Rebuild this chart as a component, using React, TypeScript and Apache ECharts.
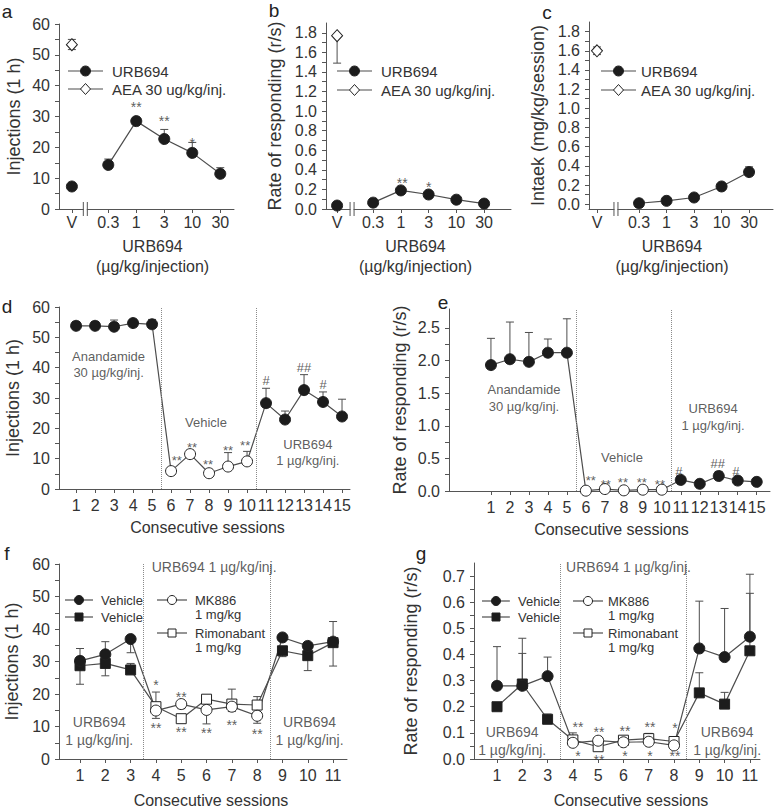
import React, { useEffect, useRef } from 'react';
import * as echarts from 'echarts';

// ---------------- data ----------------
const doseLabels = ['0.3', '1', '3', '10', '30'];
const sessions15 = [1, 2, 3, 4, 5, 6, 7, 8, 9, 10, 11, 12, 13, 14, 15];
const sessions11 = [1, 2, 3, 4, 5, 6, 7, 8, 9, 10, 11];

const aYTicks = [0, 10, 20, 30, 40, 50, 60];
const bYTicks = [0, 0.2, 0.4, 0.6, 0.8, 1.0, 1.2, 1.4, 1.6, 1.8];
const cYTicks = [0, 0.2, 0.4, 0.6, 0.8, 1.0, 1.2, 1.4, 1.6, 1.8];
const dYTicks = [0, 10, 20, 30, 40, 50, 60];
const eYTicks = [0, 0.5, 1.0, 1.5, 2.0, 2.5];
const fYTicks = [0, 10, 20, 30, 40, 50, 60];
const gYTicks = [0, 0.1, 0.2, 0.3, 0.4, 0.5, 0.6, 0.7];

// panel a: injections (1 h)
const aVehicleInj = 7.3;
const aUrbInj = [14.3, 28.5, 22.7, 18.2, 11.4];
const aUrbInjErrEnd = [16.2, 29.4, 25.8, 21.6, 13.4];
const aAeaInj = 53.3;
const aAeaInjErrEnd = [55.0, 51.7];

// panel b: rate of responding
const bVehicleRate = 0.035;
const bUrbRate = [0.065, 0.19, 0.148, 0.095, 0.055];
const bUrbRateErrEnd = [null, 0.205, 0.17, null, null];
const bAeaRate = 1.77;
const bAeaRateErrEnd = [1.49];

// panel c: intake
const cUrbIntake = [0.01, 0.035, 0.07, 0.185, 0.335];
const cUrbIntakeErrEnd = [null, null, null, 0.2, 0.39];
const cAeaIntake = 1.6;
const cAeaIntakeErrEnd = [1.64, 1.56];

// panel d: injections per session
const dInj = [53.8, 53.8, 53.5, 54.7, 54.3, 5.9, 11.5, 5.2, 7.4, 9.1, 28.3, 22.9, 32.6, 28.7, 23.9];
const dInjErrEnd = [55.2, 55.2, 55.7, 55.4, 55.9, null, 12.8, null, 12.0, 12.4, 33.2, 25.7, 37.7, 32.0, 29.6];
const dVehicleSessions = [6, 7, 8, 9, 10];

// panel e: rate of responding per session
const eRate = [1.93, 2.02, 1.98, 2.12, 2.12, 0.005, 0.03, 0.01, 0.02, 0.02, 0.17, 0.11, 0.23, 0.16, 0.14];
const eRateErrEnd = [2.34, 2.59, 2.43, 2.33, 2.64, null, null, null, null, null, null, null, 0.3, null, null];
const eVehicleSessions = [6, 7, 8, 9, 10];

// panel f: injections, circles (Vehicle / MK886) and squares (Vehicle / Rimonabant)
const fCircle = [30.2, 32.2, 36.9, 14.9, 16.9, 15.1, 16.1, 13.3, 37.4, 34.8, 36.1];
const fCircleErrEnd = [34.0, 36.1, 32.7, 12.5, 15.5, 10.8, 14.6, 11.0, null, null, 42.3];
const fSquare = [28.7, 29.4, 27.4, 16.1, 12.4, 18.4, 16.9, 16.6, 33.3, 31.8, 35.8];
const fSquareErrEnd = [23.0, 25.6, 29.4, 20.6, null, null, 21.5, 19.2, 31.5, 27.2, 28.6];
const fTreatSessions = [4, 5, 6, 7, 8];

// panel g: rate of responding
const gCircle = [0.28, 0.28, 0.317, 0.062, 0.07, 0.064, 0.066, 0.052, 0.423, 0.39, 0.468];
const gCircleErrEnd = [0.43, 0.462, 0.39, null, null, null, null, null, 0.604, 0.576, 0.707];
const gSquare = [0.2, 0.287, 0.152, 0.073, 0.047, 0.072, 0.078, 0.067, 0.253, 0.21, 0.414];
const gSquareErrEnd = [null, 0.404, 0.172, 0.1, null, null, 0.098, null, 0.33, 0.255, 0.634];
const gTreatSessions = [4, 5, 6, 7, 8];

// annotations [x, y, text] in data units
const aMarks: [number, number, string][] = [[2.3, 34, '**'], [3.3, 29.5, '**'], [4.3, 22.4, '*']];
const bMarks: [number, number, string][] = [[2.35, 0.3, '**'], [3.3, 0.255, '*']];
const dMarks: [number, number, string][] = [
  [6.3, 10.5, '**'], [7.1, 14.8, '**'], [7.95, 9.2, '**'], [9.0, 13.8, '**'], [9.9, 15.2, '**'],
  [11, 36.6, '#'], [13, 40.9, '##'], [14, 35.3, '#'],
];
const eMarks: [number, number, string][] = [
  [6.26, 0.21, '**'], [7.05, 0.15, '**'], [7.95, 0.17, '**'], [8.95, 0.17, '**'], [9.9, 0.14, '**'],
  [10.9, 0.34, '#'], [12.95, 0.46, '##'], [13.9, 0.34, '#'],
];
const fMarks: [number, number, string][] = [
  [4, 23.7, '*'], [4, 10.5, '**'], [5, 20.0, '**'], [5, 9.2, '**'], [6, 8.9, '**'], [7, 11.4, '**'], [8, 8.6, '**'],
];
const gMarks: [number, number, string][] = [
  [4.2, 0.134, '**'], [4.2, 0.023, '*'], [5.03, 0.115, '**'], [5.03, 0.008, '**'], [6.06, 0.119, '**'],
  [6.06, 0.023, '*'], [7.05, 0.134, '**'], [7.05, 0.023, '*'], [8.04, 0.13, '*'], [8.04, 0.023, '**'],
];
const dNotes: [number, number, string][] = [
  [2.71, 40.9, 'Anandamide\n30 µg/kg/inj.'], [7.84, 21.8, 'Vehicle'], [13.2, 12.0, 'URB694\n1 µg/kg/inj.'],
];
const eNotes: [number, number, string][] = [
  [2.74, 1.43, 'Anandamide\n30 µg/kg/inj.'], [7.9, 0.51, 'Vehicle'], [12.7, 1.13, 'URB694\n1 µg/kg/inj.'],
];
const fNotes: [number, number, string][] = [
  [6.3, 59.0, 'URB694 1 µg/kg/inj.'], [1.76, 8.6, 'URB694\n1 µg/kg/inj.'], [10.07, 8.6, 'URB694\n1 µg/kg/inj.'],
];
const gNotes: [number, number, string][] = [
  [6.2, 0.734, 'URB694 1 µg/kg/inj.'], [1.6, 0.07, 'URB694\n1 µg/kg/inj.'], [10.1, 0.07, 'URB694\n1 µg/kg/inj.'],
];

// ---------------- layout & style ----------------
const FONT = '"Liberation Sans", Arial, Helvetica, sans-serif';
const TXT = '#333333';
const AXC = '#555555';
const MK = '#1c1c1c';
const LN = '#4d4d4d';

type K = 'a' | 'b' | 'c' | 'd' | 'e' | 'f' | 'g';
const ORDER: K[] = ['a', 'b', 'c', 'd', 'e', 'f', 'g'];
const gi = (k: K) => ORDER.indexOf(k);
const LAYOUT: Record<K, { left: number; top: number; right: number; bottom: number; xMin: number; xMax: number; yMin: number; yMax: number }> = {
  a: { left: 59, top: 24, right: 234, bottom: 209, xMin: -0.46, xMax: 5.79, yMin: 0, yMax: 60 },
  b: { left: 326, top: 23, right: 511, bottom: 209, xMin: -0.4, xMax: 6.27, yMin: 0, yMax: 1.9 },
  c: { left: 589, top: 22, right: 773, bottom: 209, xMin: -0.29, xMax: 6.4, yMin: -0.05, yMax: 1.9 },
  d: { left: 59, top: 307, right: 350, bottom: 489, xMin: 0.1, xMax: 15.42, yMin: 0, yMax: 60 },
  e: { left: 449, top: 309, right: 770, bottom: 491, xMin: -1.21, xMax: 15.7, yMin: 0, yMax: 2.79 },
  f: { left: 59, top: 564, right: 347, bottom: 759, xMin: 0.17, xMax: 11.55, yMin: 0, yMax: 60 },
  g: { left: 474, top: 563, right: 760, bottom: 759, xMin: 0.09, xMax: 11.4, yMin: 0, yMax: 0.75 },
};
const DOSE_GAP: Record<string, number> = { a: 1.3, b: 1.3, c: 1.53 };
const BREAK_POS: Record<string, number> = { a: 0.48, b: 0.54, c: 0.69 };
const dosePos = (k: K) => doseLabels.map((_, i) => DOSE_GAP[k] + i);

function halfTicks(t: number[]) {
  const out: number[] = [];
  t.forEach((v, i) => {
    out.push(v);
    if (i < t.length - 1) out.push(+((v + t[i + 1]) / 2).toFixed(4));
  });
  return out;
}

const lbl = (size: number) => ({ color: TXT, fontSize: size, fontFamily: FONT });

function yAxis(k: K, ticks: number[], digits: number, name: string, nameGap: number) {
  const p = LAYOUT[k];
  return {
    gridIndex: gi(k), type: 'value', min: p.yMin, max: p.yMax,
    axisLine: { show: true, onZero: false, lineStyle: { color: AXC, width: 1 } },
    axisTick: { show: true, customValues: halfTicks(ticks), length: 4, lineStyle: { color: AXC } },
    axisLabel: { customValues: ticks, formatter: (v: number) => Number(v).toFixed(digits), margin: 9, ...lbl(16) },
    splitLine: { show: false },
    name, nameLocation: 'middle', nameGap, nameTextStyle: lbl(18),
  };
}

function doseAxis(k: K, shift: number) {
  const p = LAYOUT[k];
  const pos = [0, ...dosePos(k)];
  const labels = ['V', ...doseLabels];
  const map = new Map(pos.map((v, i) => [v.toFixed(3), labels[i]]));
  return {
    gridIndex: gi(k), type: 'value', min: p.xMin, max: p.xMax,
    axisLine: { show: true, onZero: false, lineStyle: { color: AXC, width: 1 } },
    axisTick: { show: true, customValues: pos, length: 4, lineStyle: { color: AXC } },
    axisLabel: { customValues: pos, formatter: (v: number) => map.get(Number(v).toFixed(3)) ?? '', margin: 5, ...lbl(16) },
    splitLine: { show: false },
    name: 'URB694\n(µg/kg/injection)', nameLocation: 'middle', nameGap: 27,
    nameTextStyle: { ...lbl(16), lineHeight: 20, padding: shift >= 0 ? [0, 0, 0, shift * 2] : [0, -shift * 2, 0, 0] },
  };
}

function sessAxis(k: K, sessions: number[], nameGap: number, shift: number) {
  const p = LAYOUT[k];
  return {
    gridIndex: gi(k), type: 'value', min: p.xMin, max: p.xMax,
    axisLine: { show: true, onZero: false, lineStyle: { color: AXC, width: 1 } },
    axisTick: { show: true, customValues: sessions, length: 4, lineStyle: { color: AXC } },
    axisLabel: { customValues: sessions, formatter: (v: number) => String(Math.round(v)), margin: 8, ...lbl(16) },
    splitLine: { show: false },
    name: 'Consecutive sessions', nameLocation: 'middle', nameGap,
    nameTextStyle: { ...lbl(16), padding: shift >= 0 ? [0, 0, 0, shift * 2] : [0, -shift * 2, 0, 0] },
  };
}

function errData(xs: number[], ys: number[], ends: (number | null)[]) {
  const out: number[][] = [];
  xs.forEach((x, i) => { if (ends[i] != null) out.push([x, ys[i], ends[i] as number]); });
  return out;
}

function errorSeries(k: K, data: number[][]) {
  return {
    type: 'custom', xAxisIndex: gi(k), yAxisIndex: gi(k), z: 1, silent: true, clip: false,
    data,
    renderItem: (_p: any, api: any) => {
      const a = api.coord([api.value(0), api.value(1)]);
      const b = api.coord([api.value(0), api.value(2)]);
      const st = { stroke: LN, lineWidth: 1 };
      return {
        type: 'group', children: [
          { type: 'line', shape: { x1: a[0], y1: a[1], x2: b[0], y2: b[1] }, style: st },
          { type: 'line', shape: { x1: b[0] - 4, y1: b[1], x2: b[0] + 4, y2: b[1] }, style: st },
        ],
      };
    },
  };
}

function breakSeries(k: K) {
  return {
    type: 'custom', xAxisIndex: gi(k), yAxisIndex: gi(k), z: 6, silent: true, clip: false,
    data: [[BREAK_POS[k], LAYOUT[k].yMin]],
    renderItem: (_p: any, api: any) => {
      const c = api.coord([api.value(0), api.value(1)]);
      const st = { stroke: AXC, lineWidth: 1 };
      return {
        type: 'group', children: [
          { type: 'rect', shape: { x: c[0] - 1.5, y: c[1] - 2, width: 3, height: 4 }, style: { fill: '#fff' } },
          { type: 'line', shape: { x1: c[0] - 2, y1: c[1] - 7, x2: c[0] - 2, y2: c[1] + 7 }, style: st },
          { type: 'line', shape: { x1: c[0] + 2, y1: c[1] - 7, x2: c[0] + 2, y2: c[1] + 7 }, style: st },
        ],
      };
    },
  };
}

function markerSeries(k: K, type: 'line' | 'scatter', xs: number[], ys: number[], symbol: string, size: number | number[], open: (x: number) => boolean, extra: any = {}) {
  return {
    type, xAxisIndex: gi(k), yAxisIndex: gi(k), z: 3, silent: true,
    symbol, symbolSize: size, showSymbol: true,
    lineStyle: { color: LN, width: 1.2 },
    itemStyle: { color: MK, borderColor: '#222', borderWidth: 1, opacity: 1 },
    data: xs.map((x, i) => ({ value: [x, ys[i]], itemStyle: open(x) ? { color: '#fff' } : undefined })),
    ...extra,
  };
}

function textSeries(k: K, items: [number, number, string][], size: number, lineHeight: number, dy = 0) {
  return {
    type: 'scatter', xAxisIndex: gi(k), yAxisIndex: gi(k), z: 5, silent: true,
    symbol: 'circle', symbolSize: 1,
    itemStyle: { color: 'rgba(0,0,0,0)' },
    label: { show: true, position: 'inside', offset: [0, dy], ...lbl(size), lineHeight },
    data: items.map(([x, y, t]) => ({ value: [x, y], label: { formatter: t } })),
  };
}

const dotted = (xs: number[]) => ({
  silent: true, symbol: ['none', 'none'], label: { show: false },
  lineStyle: { type: 'dotted', color: '#8a8a8a', width: 1 },
  data: xs.map((x) => ({ xAxis: x })),
});

// graphic legend helpers
function gSymbol(kind: string, filled: boolean, x: number, y: number, s: number) {
  const style = { fill: filled ? MK : '#fff', stroke: '#222', lineWidth: 1 };
  if (kind === 'circle') return { type: 'circle', shape: { cx: x, cy: y, r: s / 2 }, style, z: 10 };
  if (kind === 'rect') return { type: 'rect', shape: { x: x - s / 2, y: y - s / 2, width: s, height: s }, style, z: 10 };
  return { type: 'polygon', shape: { points: [[x, y - s / 2 - 0.5], [x + s / 2, y], [x, y + s / 2 + 0.5], [x - s / 2, y]] }, style, z: 10 };
}
function legendEntry(x1: number, x2: number, y: number, kind: string, filled: boolean, textX: number, lines: string[], size: number, lh: number, s: number) {
  const els: any[] = [
    { type: 'line', shape: { x1, y1: y, x2, y2: y }, style: { stroke: LN, lineWidth: 1.2 }, z: 9 },
    gSymbol(kind, filled, (x1 + x2) / 2, y, s),
  ];
  lines.forEach((t, i) => {
    els.push({ type: 'text', x: textX, y: y + i * lh, style: { text: t, ...lbl(size), fill: TXT, verticalAlign: 'middle', align: 'left' }, z: 10 });
  });
  return els;
}
const letter = (t: string, x: number, y: number) => ({
  type: 'text', x, y, style: { text: t, fontSize: 19, fontFamily: FONT, fill: '#222', align: 'center', verticalAlign: 'middle' }, z: 10,
});

function buildOption() {
  const pa = dosePos('a'), pb = dosePos('b'), pc = dosePos('c');
  const notIn = (arr: number[]) => (x: number) => arr.includes(x);
  const never = () => false;
  const always = () => true;

  const series: any[] = [
    // a
    errorSeries('a', [...errData(pa, aUrbInj, aUrbInjErrEnd), ...aAeaInjErrEnd.map((e) => [0, aAeaInj, e])]),
    markerSeries('a', 'line', pa, aUrbInj, 'circle', 11, never),
    markerSeries('a', 'scatter', [0], [aVehicleInj], 'circle', 11, never),
    markerSeries('a', 'scatter', [0], [aAeaInj], 'diamond', [11, 12], always),
    breakSeries('a'),
    textSeries('a', aMarks, 14, 14, 3),
    // b
    errorSeries('b', [...errData(pb, bUrbRate, bUrbRateErrEnd), ...bAeaRateErrEnd.map((e) => [0, bAeaRate, e])]),
    markerSeries('b', 'line', pb, bUrbRate, 'circle', 11, never),
    markerSeries('b', 'scatter', [0], [bVehicleRate], 'circle', 11, never),
    markerSeries('b', 'scatter', [0], [bAeaRate], 'diamond', [11, 12], always),
    breakSeries('b'),
    textSeries('b', bMarks, 14, 14, 3),
    // c
    errorSeries('c', [...errData(pc, cUrbIntake, cUrbIntakeErrEnd), ...cAeaIntakeErrEnd.map((e) => [0, cAeaIntake, e])]),
    markerSeries('c', 'line', pc, cUrbIntake, 'circle', 11, never),
    markerSeries('c', 'scatter', [0], [cAeaIntake], 'diamond', [11, 12], always),
    breakSeries('c'),
    // d
    errorSeries('d', errData(sessions15, dInj, dInjErrEnd)),
    markerSeries('d', 'line', sessions15, dInj, 'circle', 11, notIn(dVehicleSessions), { markLine: dotted([5.5, 10.5]) }),
    textSeries('d', dMarks, 13, 13, 3),
    textSeries('d', dNotes, 13, 16),
    // e
    errorSeries('e', errData(sessions15, eRate, eRateErrEnd)),
    markerSeries('e', 'line', sessions15, eRate, 'circle', 11, notIn(eVehicleSessions), { markLine: dotted([5.5, 10.5]) }),
    textSeries('e', eMarks, 13, 13, 3),
    textSeries('e', eNotes, 13, 17),
    // f
    errorSeries('f', [...errData(sessions11, fCircle, fCircleErrEnd), ...errData(sessions11, fSquare, fSquareErrEnd)]),
    markerSeries('f', 'line', sessions11, fSquare, 'rect', 10, notIn(fTreatSessions), { markLine: dotted([3.5, 8.5]) }),
    markerSeries('f', 'line', sessions11, fCircle, 'circle', 11, notIn(fTreatSessions)),
    textSeries('f', fMarks, 14, 14, 3),
    textSeries('f', fNotes, 14, 18),
    // g
    errorSeries('g', [...errData(sessions11, gCircle, gCircleErrEnd), ...errData(sessions11, gSquare, gSquareErrEnd)]),
    markerSeries('g', 'line', sessions11, gSquare, 'rect', 10, notIn(gTreatSessions), { markLine: dotted([3.5, 8.5]) }),
    markerSeries('g', 'line', sessions11, gCircle, 'circle', 11, notIn(gTreatSessions)),
    textSeries('g', gMarks, 14, 14, 3),
    textSeries('g', gNotes, 14, 18),
  ];

  const graphic: any[] = [
    letter('a', 7, 11), letter('b', 274, 10), letter('c', 547, 12),
    letter('d', 7, 306), letter('e', 443, 302), letter('f', 7, 553), letter('g', 421, 553),
    ...legendEntry(68, 103, 71, 'circle', true, 112, ['URB694'], 15, 15, 10),
    ...legendEntry(68, 103, 89, 'diamond', false, 112, ['AEA 30 ug/kg/inj.'], 15, 15, 10),
    ...legendEntry(337, 372, 71, 'circle', true, 381, ['URB694'], 15, 15, 10),
    ...legendEntry(337, 372, 90, 'diamond', false, 381, ['AEA 30 ug/kg/inj.'], 15, 15, 10),
    ...legendEntry(601, 636, 71, 'circle', true, 641, ['URB694'], 15, 15, 10),
    ...legendEntry(601, 636, 90, 'diamond', false, 641, ['AEA 30 ug/kg/inj.'], 15, 15, 10),
    ...legendEntry(65, 93, 600, 'circle', true, 101, ['Vehicle'], 13, 14, 9),
    ...legendEntry(65, 93, 617, 'rect', true, 101, ['Vehicle'], 13, 14, 8),
    ...legendEntry(157, 187, 600, 'circle', false, 195, ['MK886', '1 mg/kg'], 13, 14, 9),
    ...legendEntry(157, 187, 633, 'rect', false, 195, ['Rimonabant', '1 mg/kg'], 13, 14, 8),
    ...legendEntry(482, 510, 601, 'circle', true, 518, ['Vehicle'], 13, 14, 9),
    ...legendEntry(482, 510, 617, 'rect', true, 518, ['Vehicle'], 13, 14, 8),
    ...legendEntry(573, 603, 601, 'circle', false, 608, ['MK886', '1 mg/kg'], 13, 14, 9),
    ...legendEntry(573, 603, 633, 'rect', false, 608, ['Rimonabant', '1 mg/kg'], 13, 14, 8),
  ];

  return {
    animation: false,
    backgroundColor: '#fff',
    textStyle: { fontFamily: FONT },
    grid: ORDER.map((k) => {
      const p = LAYOUT[k];
      return { left: p.left, top: p.top, width: p.right - p.left, height: p.bottom - p.top, containLabel: false, outerBoundsMode: 'none' };
    }),
    xAxis: [
      doseAxis('a', 6), doseAxis('b', -3), doseAxis('c', -9),
      sessAxis('d', sessions15, 30, 3), sessAxis('e', sessions15, 30, 2),
      sessAxis('f', sessions11, 33, 8), sessAxis('g', sessions11, 33, 14),
    ],
    yAxis: [
      yAxis('a', aYTicks, 0, 'Injections (1 h)', 36),
      yAxis('b', bYTicks, 1, 'Rate of responding (r/s)', 42),
      yAxis('c', cYTicks, 1, 'Intaek (mg/kg/session)', 42),
      yAxis('d', dYTicks, 0, 'Injections (1 h)', 37),
      yAxis('e', eYTicks, 1, 'Rate of responding (r/s)', 40),
      yAxis('f', fYTicks, 0, 'Injections (1 h)', 38),
      yAxis('g', gYTicks, 1, 'Rate of responding (r/s)', 54),
    ],
    series,
    graphic,
  };
}

export default function App() {
  const ref = useRef<HTMLDivElement>(null);
  useEffect(() => {
    if (!ref.current) return;
    const chart = echarts.init(ref.current, null, { renderer: 'svg', width: 776, height: 810 });
    chart.setOption(buildOption() as any);
    return () => chart.dispose();
  }, []);
  return (
    <div
      ref={ref}
      style={{ position: 'fixed', left: 0, top: 0, width: 776, height: 810, background: '#fff' }}
    />
  );
}
